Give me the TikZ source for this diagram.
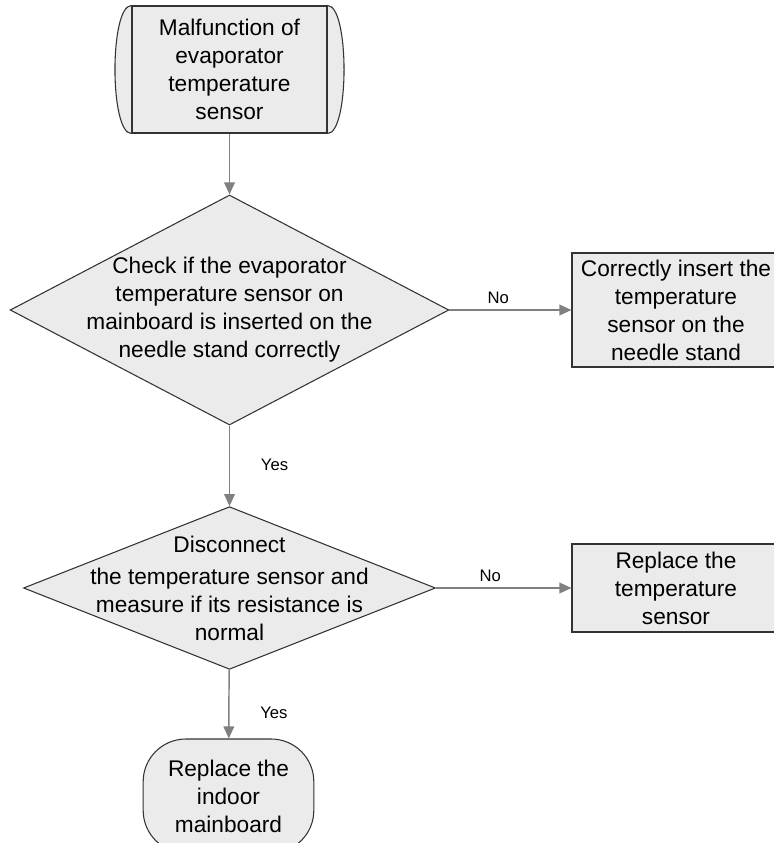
\documentclass[tikz,border=0pt]{standalone}
\usepackage{fontspec}
\setmainfont{Liberation Sans}
\usetikzlibrary{shapes,arrows.meta,positioning}
\definecolor{boxfill}{HTML}{EBEBEB}
\definecolor{linegray}{HTML}{808080}
\definecolor{edge}{HTML}{333333}

\begin{document}
\begin{tikzpicture}[x=0.75pt, y=-0.75pt,
  block/.style={rectangle, draw=edge, line width=0.8pt, fill=boxfill, align=center, inner sep=2pt,
    font=\fontsize{17}{21}\selectfont},
  decision/.style={diamond, draw=edge, line width=0.8pt, fill=boxfill, align=center, inner sep=-16pt,
    font=\fontsize{17}{21}\selectfont},
  terminal/.style={block, rounded corners=32pt},
  lbl/.style={font=\fontsize{12.5}{14}\selectfont, inner sep=1pt, text=black},
  arr/.style={-{Triangle[length=9pt, width=8pt]}, line width=1.1pt, linegray}
]
  \useasboundingbox (0,0) rectangle (774,843);

  \node[block, minimum width=146.25pt, minimum height=95.25pt] (fault) at (229.5,69.5)
    {Malfunction of\\evaporator\\temperature\\sensor};
  \draw[edge, line width=0.8pt, fill=boxfill] (fault.north west) .. controls +(-22,0) and +(-22,0) .. (fault.south west);
  \draw[edge, line width=0.8pt, fill=boxfill] (fault.north east) .. controls +(22,0) and +(22,0) .. (fault.south east);

  \node[decision, minimum width=329pt, minimum height=172.5pt, shape aspect=1.91] (check) at (229.5,310)
    {Check if the evaporator\\temperature sensor on\\mainboard is inserted on the\\needle stand correctly};
  \node[block, minimum width=156pt, minimum height=85.5pt] (insert) at (676,310)
    {Correctly insert the\\temperature\\sensor on the\\needle stand};

  \node[decision, minimum width=309pt, minimum height=122pt, shape aspect=2.53] (measure) at (229.5,588)
    {Disconnect\\[3pt]the temperature sensor and\\measure if its resistance is\\normal};
  \node[block, minimum width=156pt, minimum height=66pt] (sensor) at (676,588)
    {Replace the\\temperature\\sensor};

  \node[terminal, minimum width=128pt, minimum height=85.5pt] (board) at (228.5,796)
    {Replace the\\indoor\\mainboard};

  \draw[arr] (fault) -- (check);
  \draw[arr] (check) -- node[lbl, pos=0.4, above=3pt] {No} (insert);
  \draw[arr] (check) -- node[lbl, pos=0.49, right=22pt] {Yes} (measure);
  \draw[arr] (measure) -- node[lbl, pos=0.4, above=3pt] {No} (sensor);
  \draw[arr] (measure) -- node[lbl, pos=0.63, right=22pt] {Yes} (board);
\end{tikzpicture}
\end{document}
